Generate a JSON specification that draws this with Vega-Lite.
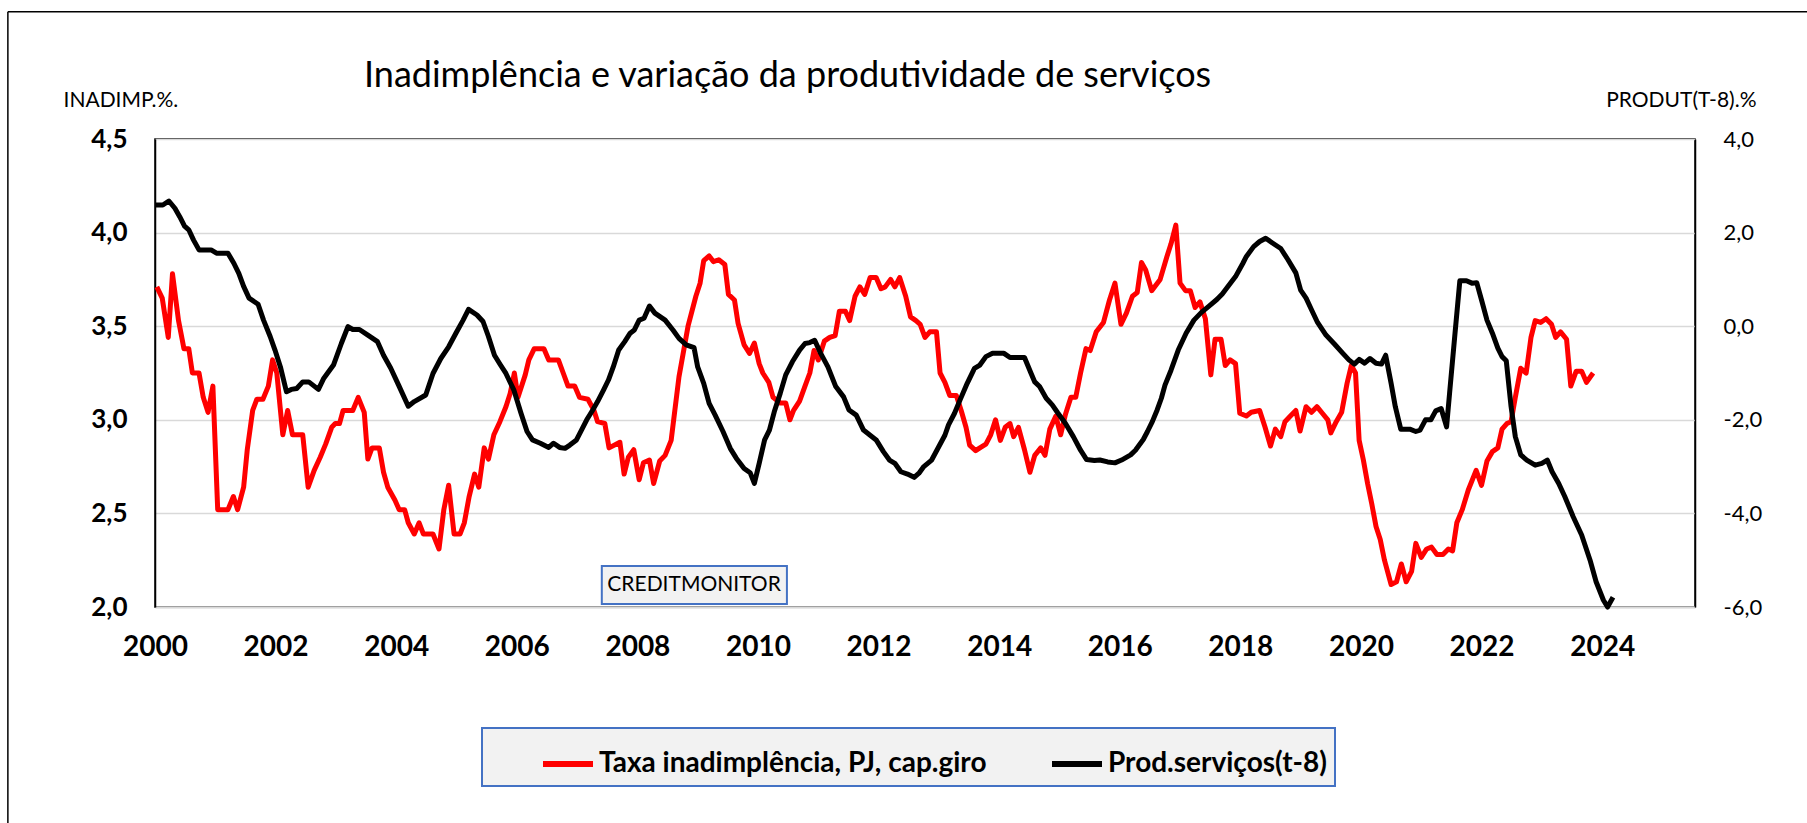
{
  "$schema": "https://vega.github.io/schema/vega-lite/v6.json",
  "width": 1540,
  "height": 468,
  "autosize": {"type": "none"},
  "padding": {"left": 155, "top": 139, "right": 112, "bottom": 216},
  "background": "white",
  "config": {
    "font": "Lato",
    "view": {"stroke": "black", "strokeWidth": 1.5},
    "legend": {"strokeWidth": 2}
  },
  "title": {
    "text": "Inadimplência e variação da produtividade de serviços",
    "anchor": "start",
    "frame": "group",
    "dx": 209,
    "dy": 112,
    "offset": 0,
    "baseline": "alphabetic",
    "fontSize": 36,
    "fontWeight": "normal",
    "color": "black"
  },
  "datasets": {
    "inad": [
      {"t":2000.03,"v":3.71},{"t":2000.12,"v":3.65},{"t":2000.22,"v":3.44},{"t":2000.29,"v":3.78},{"t":2000.39,"v":3.53},{"t":2000.45,"v":3.43},{"t":2000.48,"v":3.38},{"t":2000.56,"v":3.38},{"t":2000.62,"v":3.25},{"t":2000.73,"v":3.25},{"t":2000.80,"v":3.12},{"t":2000.88,"v":3.04},{"t":2000.96,"v":3.18},{"t":2001.04,"v":2.52},{"t":2001.21,"v":2.52},{"t":2001.30,"v":2.59},{"t":2001.37,"v":2.52},{"t":2001.47,"v":2.64},{"t":2001.53,"v":2.84},{"t":2001.62,"v":3.05},{"t":2001.69,"v":3.11},{"t":2001.79,"v":3.11},{"t":2001.88,"v":3.18},{"t":2001.95,"v":3.32},{"t":2002.02,"v":3.25},{"t":2002.12,"v":2.92},{"t":2002.20,"v":3.05},{"t":2002.28,"v":2.92},{"t":2002.45,"v":2.92},{"t":2002.54,"v":2.64},{"t":2002.64,"v":2.73},{"t":2002.74,"v":2.80},{"t":2002.83,"v":2.87},{"t":2002.93,"v":2.96},{"t":2002.99,"v":2.98},{"t":2003.06,"v":2.98},{"t":2003.12,"v":3.05},{"t":2003.28,"v":3.05},{"t":2003.37,"v":3.12},{"t":2003.47,"v":3.04},{"t":2003.53,"v":2.79},{"t":2003.60,"v":2.85},{"t":2003.72,"v":2.85},{"t":2003.79,"v":2.72},{"t":2003.86,"v":2.64},{"t":2003.98,"v":2.57},{"t":2004.05,"v":2.52},{"t":2004.14,"v":2.52},{"t":2004.20,"v":2.45},{"t":2004.30,"v":2.39},{"t":2004.38,"v":2.45},{"t":2004.45,"v":2.39},{"t":2004.61,"v":2.39},{"t":2004.71,"v":2.31},{"t":2004.79,"v":2.52},{"t":2004.87,"v":2.65},{"t":2004.96,"v":2.39},{"t":2005.06,"v":2.39},{"t":2005.13,"v":2.45},{"t":2005.21,"v":2.59},{"t":2005.30,"v":2.71},{"t":2005.37,"v":2.64},{"t":2005.46,"v":2.85},{"t":2005.53,"v":2.79},{"t":2005.62,"v":2.92},{"t":2005.72,"v":2.99},{"t":2005.82,"v":3.07},{"t":2005.89,"v":3.14},{"t":2005.96,"v":3.25},{"t":2006.02,"v":3.12},{"t":2006.14,"v":3.24},{"t":2006.20,"v":3.32},{"t":2006.29,"v":3.38},{"t":2006.45,"v":3.38},{"t":2006.53,"v":3.32},{"t":2006.69,"v":3.32},{"t":2006.77,"v":3.25},{"t":2006.85,"v":3.18},{"t":2006.96,"v":3.18},{"t":2007.04,"v":3.12},{"t":2007.18,"v":3.11},{"t":2007.28,"v":3.05},{"t":2007.34,"v":2.99},{"t":2007.46,"v":2.98},{"t":2007.53,"v":2.85},{"t":2007.71,"v":2.88},{"t":2007.78,"v":2.71},{"t":2007.85,"v":2.80},{"t":2007.94,"v":2.84},{"t":2008.03,"v":2.68},{"t":2008.10,"v":2.77},{"t":2008.20,"v":2.785},{"t":2008.27,"v":2.66},{"t":2008.37,"v":2.78},{"t":2008.46,"v":2.81},{"t":2008.56,"v":2.89},{"t":2008.69,"v":3.23},{"t":2008.84,"v":3.50},{"t":2008.97,"v":3.66},{"t":2009.04,"v":3.73},{"t":2009.10,"v":3.85},{"t":2009.19,"v":3.875},{"t":2009.26,"v":3.845},{"t":2009.35,"v":3.855},{"t":2009.45,"v":3.83},{"t":2009.51,"v":3.67},{"t":2009.61,"v":3.64},{"t":2009.67,"v":3.515},{"t":2009.77,"v":3.40},{"t":2009.86,"v":3.355},{"t":2009.94,"v":3.41},{"t":2010.02,"v":3.30},{"t":2010.08,"v":3.25},{"t":2010.18,"v":3.20},{"t":2010.25,"v":3.12},{"t":2010.37,"v":3.09},{"t":2010.46,"v":3.09},{"t":2010.53,"v":3.00},{"t":2010.59,"v":3.05},{"t":2010.69,"v":3.10},{"t":2010.78,"v":3.18},{"t":2010.86,"v":3.25},{"t":2010.93,"v":3.37},{"t":2011.00,"v":3.32},{"t":2011.10,"v":3.42},{"t":2011.19,"v":3.44},{"t":2011.28,"v":3.45},{"t":2011.35,"v":3.58},{"t":2011.45,"v":3.58},{"t":2011.52,"v":3.53},{"t":2011.61,"v":3.66},{"t":2011.69,"v":3.71},{"t":2011.77,"v":3.67},{"t":2011.86,"v":3.76},{"t":2011.96,"v":3.76},{"t":2012.04,"v":3.70},{"t":2012.11,"v":3.71},{"t":2012.20,"v":3.75},{"t":2012.27,"v":3.71},{"t":2012.35,"v":3.76},{"t":2012.45,"v":3.66},{"t":2012.53,"v":3.55},{"t":2012.62,"v":3.53},{"t":2012.69,"v":3.51},{"t":2012.77,"v":3.44},{"t":2012.85,"v":3.47},{"t":2012.96,"v":3.47},{"t":2013.02,"v":3.25},{"t":2013.10,"v":3.20},{"t":2013.18,"v":3.13},{"t":2013.29,"v":3.13},{"t":2013.37,"v":3.05},{"t":2013.45,"v":2.96},{"t":2013.51,"v":2.865},{"t":2013.61,"v":2.835},{"t":2013.68,"v":2.85},{"t":2013.78,"v":2.87},{"t":2013.86,"v":2.92},{"t":2013.94,"v":3.00},{"t":2014.02,"v":2.89},{"t":2014.10,"v":2.96},{"t":2014.18,"v":2.98},{"t":2014.24,"v":2.91},{"t":2014.32,"v":2.96},{"t":2014.42,"v":2.84},{"t":2014.51,"v":2.72},{"t":2014.59,"v":2.81},{"t":2014.69,"v":2.85},{"t":2014.76,"v":2.81},{"t":2014.84,"v":2.95},{"t":2014.94,"v":3.02},{"t":2015.02,"v":2.92},{"t":2015.10,"v":3.03},{"t":2015.19,"v":3.12},{"t":2015.27,"v":3.12},{"t":2015.35,"v":3.25},{"t":2015.44,"v":3.38},{"t":2015.51,"v":3.37},{"t":2015.61,"v":3.47},{"t":2015.73,"v":3.52},{"t":2015.83,"v":3.64},{"t":2015.92,"v":3.73},{"t":2016.02,"v":3.51},{"t":2016.11,"v":3.57},{"t":2016.21,"v":3.66},{"t":2016.29,"v":3.68},{"t":2016.36,"v":3.84},{"t":2016.43,"v":3.80},{"t":2016.53,"v":3.69},{"t":2016.67,"v":3.75},{"t":2016.78,"v":3.87},{"t":2016.85,"v":3.94},{"t":2016.93,"v":4.04},{"t":2017.00,"v":3.73},{"t":2017.09,"v":3.69},{"t":2017.17,"v":3.69},{"t":2017.25,"v":3.60},{"t":2017.33,"v":3.63},{"t":2017.42,"v":3.54},{"t":2017.51,"v":3.24},{"t":2017.58,"v":3.43},{"t":2017.68,"v":3.43},{"t":2017.75,"v":3.29},{"t":2017.83,"v":3.32},{"t":2017.92,"v":3.30},{"t":2017.99,"v":3.035},{"t":2018.10,"v":3.02},{"t":2018.18,"v":3.04},{"t":2018.32,"v":3.05},{"t":2018.41,"v":2.96},{"t":2018.50,"v":2.86},{"t":2018.58,"v":2.95},{"t":2018.67,"v":2.91},{"t":2018.74,"v":2.99},{"t":2018.83,"v":3.02},{"t":2018.92,"v":3.05},{"t":2018.99,"v":2.94},{"t":2019.09,"v":3.07},{"t":2019.18,"v":3.04},{"t":2019.27,"v":3.07},{"t":2019.36,"v":3.035},{"t":2019.45,"v":3.00},{"t":2019.50,"v":2.93},{"t":2019.59,"v":2.99},{"t":2019.68,"v":3.04},{"t":2019.77,"v":3.195},{"t":2019.84,"v":3.29},{"t":2019.91,"v":3.25},{"t":2019.97,"v":2.89},{"t":2020.04,"v":2.785},{"t":2020.11,"v":2.66},{"t":2020.18,"v":2.55},{"t":2020.25,"v":2.43},{"t":2020.32,"v":2.36},{"t":2020.39,"v":2.25},{"t":2020.50,"v":2.12},{"t":2020.59,"v":2.135},{"t":2020.67,"v":2.23},{"t":2020.75,"v":2.135},{"t":2020.84,"v":2.19},{"t":2020.91,"v":2.34},{"t":2021.00,"v":2.265},{"t":2021.09,"v":2.31},{"t":2021.17,"v":2.32},{"t":2021.26,"v":2.28},{"t":2021.36,"v":2.28},{"t":2021.45,"v":2.31},{"t":2021.52,"v":2.30},{"t":2021.59,"v":2.45},{"t":2021.68,"v":2.52},{"t":2021.78,"v":2.625},{"t":2021.91,"v":2.73},{"t":2022.00,"v":2.65},{"t":2022.09,"v":2.78},{"t":2022.18,"v":2.83},{"t":2022.27,"v":2.85},{"t":2022.34,"v":2.95},{"t":2022.42,"v":2.98},{"t":2022.49,"v":2.99},{"t":2022.56,"v":3.12},{"t":2022.65,"v":3.275},{"t":2022.74,"v":3.25},{"t":2022.82,"v":3.44},{"t":2022.89,"v":3.53},{"t":2022.98,"v":3.52},{"t":2023.07,"v":3.54},{"t":2023.16,"v":3.51},{"t":2023.23,"v":3.44},{"t":2023.31,"v":3.47},{"t":2023.41,"v":3.43},{"t":2023.48,"v":3.18},{"t":2023.57,"v":3.26},{"t":2023.66,"v":3.26},{"t":2023.74,"v":3.20},{"t":2023.85,"v":3.25}
    ],
    "prod": [
      {"t":2000.01,"v":2.59},{"t":2000.13,"v":2.59},{"t":2000.23,"v":2.675},{"t":2000.33,"v":2.52},{"t":2000.41,"v":2.34},{"t":2000.49,"v":2.14},{"t":2000.56,"v":2.06},{"t":2000.64,"v":1.84},{"t":2000.73,"v":1.63},{"t":2000.93,"v":1.63},{"t":2001.02,"v":1.56},{"t":2001.21,"v":1.56},{"t":2001.31,"v":1.34},{"t":2001.39,"v":1.13},{"t":2001.47,"v":0.85},{"t":2001.56,"v":0.60},{"t":2001.71,"v":0.47},{"t":2001.80,"v":0.13},{"t":2001.91,"v":-0.22},{"t":2001.99,"v":-0.51},{"t":2002.08,"v":-0.87},{"t":2002.18,"v":-1.40},{"t":2002.26,"v":-1.35},{"t":2002.35,"v":-1.33},{"t":2002.45,"v":-1.19},{"t":2002.55,"v":-1.19},{"t":2002.71,"v":-1.35},{"t":2002.80,"v":-1.11},{"t":2002.96,"v":-0.83},{"t":2003.09,"v":-0.37},{"t":2003.20,"v":-0.01},{"t":2003.28,"v":-0.07},{"t":2003.39,"v":-0.07},{"t":2003.53,"v":-0.19},{"t":2003.69,"v":-0.33},{"t":2003.79,"v":-0.62},{"t":2003.91,"v":-0.90},{"t":2004.04,"v":-1.26},{"t":2004.20,"v":-1.71},{"t":2004.30,"v":-1.61},{"t":2004.49,"v":-1.47},{"t":2004.61,"v":-1.01},{"t":2004.74,"v":-0.69},{"t":2004.87,"v":-0.44},{"t":2004.99,"v":-0.15},{"t":2005.11,"v":0.13},{"t":2005.20,"v":0.36},{"t":2005.34,"v":0.24},{"t":2005.44,"v":0.10},{"t":2005.53,"v":-0.22},{"t":2005.63,"v":-0.62},{"t":2005.73,"v":-0.83},{"t":2005.82,"v":-1.01},{"t":2005.95,"v":-1.36},{"t":2006.07,"v":-1.86},{"t":2006.17,"v":-2.25},{"t":2006.26,"v":-2.43},{"t":2006.39,"v":-2.50},{"t":2006.53,"v":-2.59},{"t":2006.61,"v":-2.50},{"t":2006.71,"v":-2.59},{"t":2006.80,"v":-2.61},{"t":2006.88,"v":-2.54},{"t":2006.99,"v":-2.43},{"t":2007.09,"v":-2.18},{"t":2007.16,"v":-2.00},{"t":2007.26,"v":-1.79},{"t":2007.34,"v":-1.61},{"t":2007.44,"v":-1.36},{"t":2007.52,"v":-1.15},{"t":2007.60,"v":-0.87},{"t":2007.69,"v":-0.51},{"t":2007.79,"v":-0.33},{"t":2007.88,"v":-0.15},{"t":2007.95,"v":-0.08},{"t":2008.03,"v":0.13},{"t":2008.11,"v":0.17},{"t":2008.20,"v":0.43},{"t":2008.29,"v":0.28},{"t":2008.46,"v":0.13},{"t":2008.59,"v":-0.08},{"t":2008.69,"v":-0.26},{"t":2008.81,"v":-0.40},{"t":2008.94,"v":-0.46},{"t":2009.00,"v":-0.87},{"t":2009.10,"v":-1.22},{"t":2009.19,"v":-1.65},{"t":2009.29,"v":-1.90},{"t":2009.42,"v":-2.25},{"t":2009.54,"v":-2.61},{"t":2009.64,"v":-2.82},{"t":2009.77,"v":-3.04},{"t":2009.87,"v":-3.13},{"t":2009.94,"v":-3.36},{"t":2010.02,"v":-2.93},{"t":2010.11,"v":-2.43},{"t":2010.19,"v":-2.22},{"t":2010.27,"v":-1.83},{"t":2010.37,"v":-1.43},{"t":2010.46,"v":-1.04},{"t":2010.57,"v":-0.76},{"t":2010.69,"v":-0.51},{"t":2010.78,"v":-0.37},{"t":2010.86,"v":-0.35},{"t":2010.94,"v":-0.30},{"t":2011.04,"v":-0.58},{"t":2011.16,"v":-0.87},{"t":2011.29,"v":-1.29},{"t":2011.42,"v":-1.51},{"t":2011.51,"v":-1.79},{"t":2011.63,"v":-1.90},{"t":2011.75,"v":-2.22},{"t":2011.86,"v":-2.33},{"t":2011.96,"v":-2.43},{"t":2012.08,"v":-2.68},{"t":2012.18,"v":-2.86},{"t":2012.27,"v":-2.93},{"t":2012.37,"v":-3.11},{"t":2012.48,"v":-3.16},{"t":2012.59,"v":-3.23},{"t":2012.67,"v":-3.14},{"t":2012.75,"v":-3.00},{"t":2012.88,"v":-2.86},{"t":2013.00,"v":-2.57},{"t":2013.10,"v":-2.33},{"t":2013.16,"v":-2.11},{"t":2013.26,"v":-1.86},{"t":2013.35,"v":-1.58},{"t":2013.47,"v":-1.22},{"t":2013.59,"v":-0.90},{"t":2013.68,"v":-0.83},{"t":2013.78,"v":-0.65},{"t":2013.89,"v":-0.58},{"t":2014.08,"v":-0.58},{"t":2014.18,"v":-0.67},{"t":2014.42,"v":-0.67},{"t":2014.53,"v":-1.01},{"t":2014.59,"v":-1.19},{"t":2014.67,"v":-1.29},{"t":2014.78,"v":-1.54},{"t":2014.88,"v":-1.68},{"t":2014.97,"v":-1.85},{"t":2015.10,"v":-2.08},{"t":2015.23,"v":-2.36},{"t":2015.35,"v":-2.65},{"t":2015.45,"v":-2.85},{"t":2015.58,"v":-2.87},{"t":2015.67,"v":-2.86},{"t":2015.80,"v":-2.90},{"t":2015.92,"v":-2.92},{"t":2016.03,"v":-2.86},{"t":2016.18,"v":-2.75},{"t":2016.26,"v":-2.65},{"t":2016.39,"v":-2.42},{"t":2016.46,"v":-2.25},{"t":2016.54,"v":-2.04},{"t":2016.62,"v":-1.79},{"t":2016.69,"v":-1.54},{"t":2016.75,"v":-1.26},{"t":2016.85,"v":-0.94},{"t":2016.97,"v":-0.51},{"t":2017.10,"v":-0.15},{"t":2017.23,"v":0.13},{"t":2017.35,"v":0.29},{"t":2017.48,"v":0.43},{"t":2017.61,"v":0.57},{"t":2017.70,"v":0.69},{"t":2017.80,"v":0.86},{"t":2017.92,"v":1.06},{"t":2018.04,"v":1.34},{"t":2018.10,"v":1.49},{"t":2018.22,"v":1.70},{"t":2018.32,"v":1.81},{"t":2018.42,"v":1.88},{"t":2018.52,"v":1.79},{"t":2018.67,"v":1.66},{"t":2018.79,"v":1.42},{"t":2018.92,"v":1.14},{"t":2019.00,"v":0.77},{"t":2019.09,"v":0.60},{"t":2019.18,"v":0.35},{"t":2019.28,"v":0.08},{"t":2019.42,"v":-0.19},{"t":2019.56,"v":-0.38},{"t":2019.70,"v":-0.58},{"t":2019.80,"v":-0.72},{"t":2019.89,"v":-0.81},{"t":2019.97,"v":-0.71},{"t":2020.06,"v":-0.79},{"t":2020.15,"v":-0.69},{"t":2020.25,"v":-0.79},{"t":2020.34,"v":-0.81},{"t":2020.41,"v":-0.62},{"t":2020.50,"v":-1.22},{"t":2020.57,"v":-1.72},{"t":2020.66,"v":-2.20},{"t":2020.81,"v":-2.20},{"t":2020.91,"v":-2.25},{"t":2020.98,"v":-2.22},{"t":2021.07,"v":-2.00},{"t":2021.16,"v":-2.00},{"t":2021.24,"v":-1.81},{"t":2021.33,"v":-1.76},{"t":2021.42,"v":-2.15},{"t":2021.47,"v":-1.43},{"t":2021.56,"v":-0.15},{"t":2021.64,"v":0.97},{"t":2021.75,"v":0.97},{"t":2021.84,"v":0.92},{"t":2021.92,"v":0.93},{"t":2022.00,"v":0.56},{"t":2022.09,"v":0.13},{"t":2022.18,"v":-0.15},{"t":2022.27,"v":-0.47},{"t":2022.34,"v":-0.65},{"t":2022.41,"v":-0.74},{"t":2022.49,"v":-1.72},{"t":2022.56,"v":-2.36},{"t":2022.65,"v":-2.75},{"t":2022.75,"v":-2.86},{"t":2022.89,"v":-2.97},{"t":2023.00,"v":-2.93},{"t":2023.09,"v":-2.86},{"t":2023.17,"v":-3.11},{"t":2023.28,"v":-3.36},{"t":2023.38,"v":-3.64},{"t":2023.52,"v":-4.07},{"t":2023.66,"v":-4.46},{"t":2023.80,"v":-5.00},{"t":2023.90,"v":-5.46},{"t":2024.02,"v":-5.85},{"t":2024.09,"v":-6.00},{"t":2024.18,"v":-5.79}
    ]
  },
  "resolve": {"scale": {"x": "independent", "y": "independent"}},
  "layer": [
    {
      "data": {"values": [{}]},
      "mark": {"type": "rect", "fill": "#f2f2f2", "stroke": "#4472c4", "strokeWidth": 2},
      "encoding": {
        "x": {"datum": 2007.41, "type": "quantitative", "scale": {"domain": [2000, 2025.54], "nice": false, "zero": false}, "axis": null},
        "x2": {"datum": 2010.48},
        "y": {"datum": 2.219, "type": "quantitative", "scale": {"domain": [2, 4.5], "nice": false, "zero": false}, "axis": null},
        "y2": {"datum": 2.016}
      }
    },
    {
      "data": {"values": [{}]},
      "mark": {"type": "text", "text": "CREDITMONITOR", "fontSize": 21, "color": "black", "align": "center", "baseline": "middle"},
      "encoding": {
        "x": {"datum": 2008.94, "type": "quantitative", "scale": {"domain": [2000, 2025.54], "nice": false, "zero": false}, "axis": null},
        "y": {"datum": 2.117, "type": "quantitative", "scale": {"domain": [2, 4.5], "nice": false, "zero": false}, "axis": null}
      }
    },
    {
      "data": {"values": [{}]},
      "mark": {"type": "rule", "color": "black", "strokeWidth": 1.5},
      "encoding": {
        "x": {"datum": 1997.56, "type": "quantitative", "scale": {"domain": [2000, 2025.54], "nice": false, "zero": false}, "axis": null},
        "y": {"datum": 5.18, "type": "quantitative", "scale": {"domain": [2, 4.5], "nice": false, "zero": false}, "axis": null},
        "y2": {"datum": 0.8}
      }
    },
    {
      "data": {"values": [{}]},
      "mark": {"type": "rule", "color": "black", "strokeWidth": 1.5},
      "encoding": {
        "x": {"datum": 1997.56, "type": "quantitative", "scale": {"domain": [2000, 2025.54], "nice": false, "zero": false}, "axis": null},
        "x2": {"datum": 2028},
        "y": {"datum": 5.18, "type": "quantitative", "scale": {"domain": [2, 4.5], "nice": false, "zero": false}, "axis": null}
      }
    },
    {
      "data": {"name": "inad"},
      "mark": {"type": "line", "strokeWidth": 5, "strokeJoin": "round"},
      "encoding": {
        "x": {
          "field": "t", "type": "quantitative",
          "scale": {"domain": [2000, 2025.54], "nice": false, "zero": false},
          "axis": {
            "values": [2000,2002,2004,2006,2008,2010,2012,2014,2016,2018,2020,2022,2024],
            "format": "d", "title": null, "grid": false, "ticks": false,
            "domainColor": "#d9d9d9", "domainWidth": 2,
            "labelFontSize": 28, "labelFontWeight": "bold", "labelColor": "black",
            "labelPadding": 26, "labelFlush": false, "labelOverlap": false
          }
        },
        "y": {
          "field": "v", "type": "quantitative",
          "scale": {"domain": [2, 4.5], "nice": false, "zero": false},
          "axis": {
            "values": [2, 2.5, 3, 3.5, 4, 4.5],
            "labelExpr": "replace(format(datum.value, '.1f'), '.', ',')",
            "grid": true, "gridColor": "#d9d9d9", "gridWidth": 1.5,
            "ticks": false, "domainColor": "black", "domainWidth": 1.5,
            "labelFontSize": 26, "labelFontWeight": "bold", "labelColor": "black",
            "labelPadding": 28, "labelFlush": false,
            "title": "INADIMP.%.", "titleAngle": 0, "titleX": -92, "titleY": -39,
            "titleAlign": "left", "titleBaseline": "middle",
            "titleFontSize": 21, "titleFontWeight": "normal", "titleColor": "black"
          }
        },
        "color": {
          "datum": "Taxa inadimplência, PJ, cap.giro", "type": "nominal",
          "scale": {"domain": ["Taxa inadimplência, PJ, cap.giro", "Prod.serviços(t-8)"], "range": ["#ff0000", "#000000"]},
          "legend": {
            "title": "\u00a0", "titleOrient": "left", "titleFontSize": 2, "titlePadding": 50,
            "orient": "none", "legendX": 327, "legendY": 589,
            "direction": "horizontal", "symbolType": "stroke", "symbolSize": 2500,
            "symbolStrokeWidth": 6, "labelFontSize": 28, "labelFontWeight": "bold",
            "labelColor": "black", "labelLimit": 800, "labelOffset": 3,
            "labelExpr": "indexof(datum.label, 'Prod') >= 0 ? datum.label + '\u2002\u2002\u2002' : datum.label",
            "columnPadding": 53, "padding": 8,
            "fillColor": "#f2f2f2", "strokeColor": "#4472c4"
          }
        }
      }
    },
    {
      "data": {"name": "prod"},
      "mark": {"type": "line", "strokeWidth": 5, "strokeJoin": "round"},
      "encoding": {
        "x": {"field": "t", "type": "quantitative", "scale": {"domain": [2000, 2025.54], "nice": false, "zero": false}, "axis": null},
        "y": {
          "field": "v", "type": "quantitative",
          "scale": {"domain": [-6, 4], "nice": false, "zero": false},
          "axis": {
            "orient": "right",
            "values": [-6, -4, -2, 0, 2, 4],
            "labelExpr": "replace(replace(format(datum.value, '.1f'), '.', ','), '\u2212', '-')",
            "grid": false, "ticks": false, "domainColor": "black", "domainWidth": 1.5,
            "labelFontSize": 22, "labelColor": "black", "labelPadding": 28, "labelFlush": false,
            "title": "PRODUT(T-8).%", "titleAngle": 0, "titleX": 61, "titleY": -39,
            "titleAlign": "right", "titleBaseline": "middle",
            "titleFontSize": 21, "titleFontWeight": "normal", "titleColor": "black"
          }
        },
        "color": {"datum": "Prod.serviços(t-8)", "type": "nominal"}
      }
    }
  ]
}
